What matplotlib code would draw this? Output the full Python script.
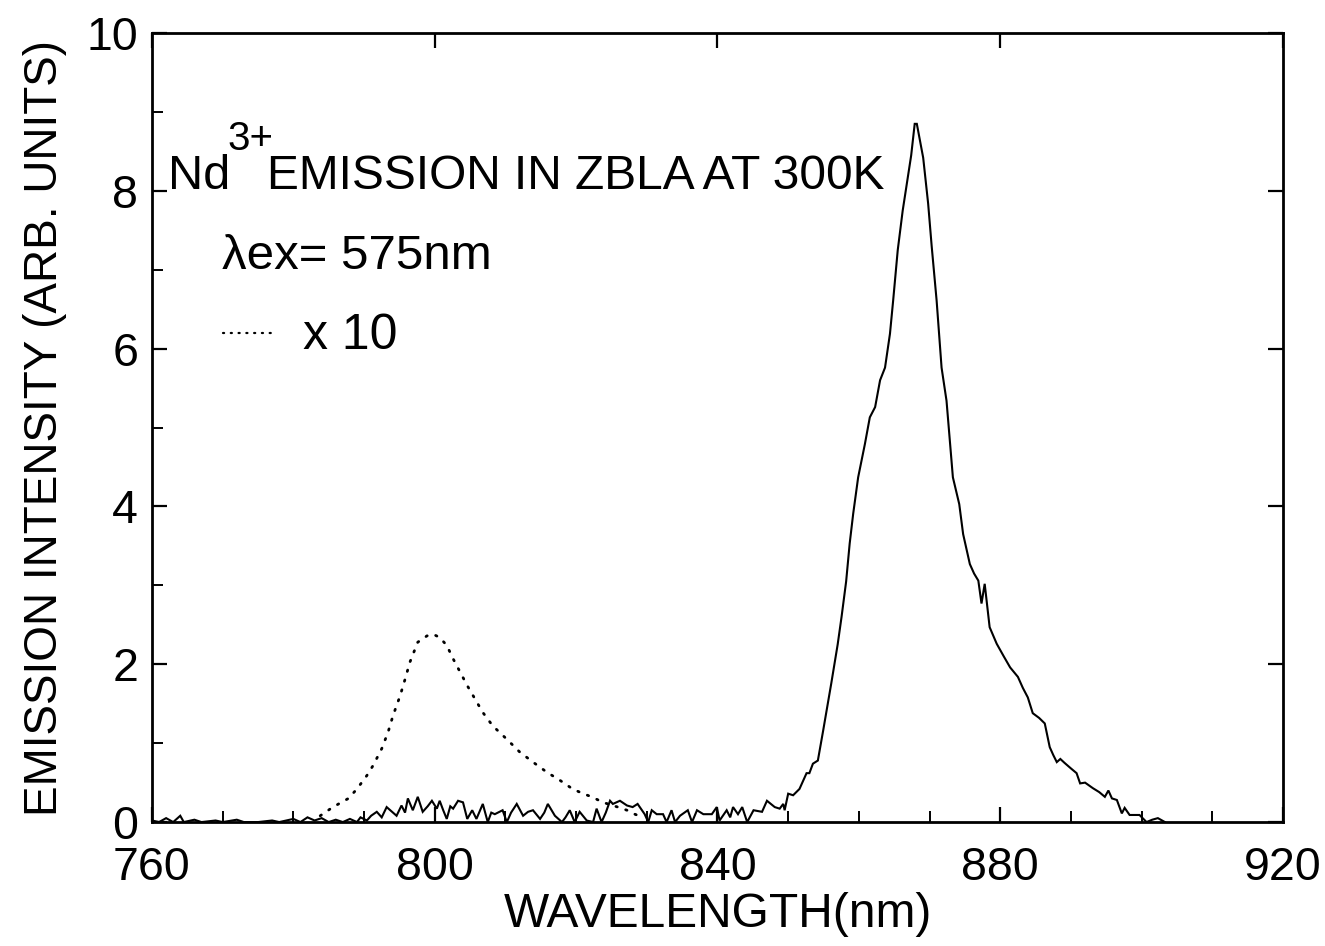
import matplotlib
matplotlib.use("Agg")
import matplotlib.pyplot as plt
from matplotlib.ticker import MultipleLocator

plt.rcParams['font.family'] = ['Liberation Sans', 'DejaVu Sans']

# Nd3+ emission spectrum (solid) in ZBLA glass at 300 K
wavelength = [
    760, 761, 762, 763, 764, 764.5, 766, 767, 769, 770, 772, 773, 775, 777, 778,
    780, 781, 782, 783, 784, 785, 786, 787, 788, 789,
    789.5, 790.4, 791, 791.8, 792.5, 793.2, 794.1, 794.6, 795.3, 795.8, 796.2,
    796.9, 797.6, 798.3, 799.0, 799.6, 800.3, 800.7, 801.2, 801.7, 802.2, 802.6,
    803.3, 804.0, 804.6, 805.3, 805.9, 806.8, 807.5, 808.0, 808.5, 809.6, 810.2,
    810.8, 811.6, 812.5, 813.2, 813.9, 814.9, 815.5, 816.0, 817.0, 818.0, 818.5,
    819.1, 819.8, 820.5, 821.5, 822.4, 822.9, 823.6, 824.2, 824.8, 825.2, 826.2,
    827.2, 828.0, 828.7, 829.7, 830.2, 830.7, 831.4, 832.3, 832.8, 833.5, 834.0,
    834.7, 835.8, 836.4, 837.1, 838.0, 839.2, 839.9, 840.3, 841.3, 841.8, 842.2,
    842.9, 843.5, 844.2, 845.1, 846.3, 847.0, 848.1, 848.8, 849.3, 849.5, 850.0,
    850.7, 851.6, 852.6, 853.0, 853.5, 854.2, 854.95, 856.1, 856.6, 857.0, 857.55,
    858.2, 858.7, 859.2, 859.9, 860.85, 861.55, 862.3, 863.0, 863.7, 864.4, 864.85,
    865.5, 866.2, 866.8, 867.4, 867.9, 868.2, 869.1, 869.8, 870.3, 871.0, 871.7,
    872.4, 873.3, 874.2, 874.75, 875.7, 876.3, 876.9, 877.35, 877.8, 878.5,
    879.5, 880.5, 881.4, 882.5, 883.2, 883.9, 884.6, 885.5, 886.3, 887.0, 887.5,
    888.0, 888.5, 889.1, 890.0, 890.8, 891.3, 892.0, 893.1, 894.0, 894.8, 895.3,
    895.8, 896.5, 897.2, 897.6, 898.3, 899.7, 900.7, 901.5, 902.3, 903.3,
]
intensity = [
    0.02, 0.0, 0.05, 0.0, 0.08, 0.0, 0.03, 0.0, 0.02, 0.0, 0.03, 0.0, 0.0, 0.02, 0.0,
    0.04, 0.0, 0.06, 0.02, 0.05, 0.0, 0.03, 0.0, 0.04, 0.0,
    0.06, 0.02, 0.08, 0.13, 0.06, 0.19, 0.12, 0.08, 0.21, 0.12, 0.30,
    0.15, 0.32, 0.13, 0.20, 0.27, 0.17, 0.27, 0.15, 0.04, 0.20, 0.17,
    0.27, 0.25, 0.04, 0.15, 0.04, 0.23, 0.0, 0.12, 0.10, 0.15, 0.0,
    0.12, 0.23, 0.08, 0.13, 0.15, 0.04, 0.12, 0.23, 0.08, 0.0, 0.06,
    0.15, 0.0, 0.13, 0.02, 0.0, 0.17, 0.0, 0.12, 0.27, 0.23, 0.27,
    0.21, 0.19, 0.23, 0.10, 0.0, 0.15, 0.10, 0.10, 0.0, 0.15, 0.0,
    0.08, 0.15, 0.0, 0.15, 0.10, 0.10, 0.19, 0.02, 0.15, 0.06, 0.19,
    0.10, 0.19, 0.0, 0.15, 0.13, 0.27, 0.19, 0.17, 0.23, 0.15, 0.36,
    0.34, 0.42, 0.62, 0.62, 0.74, 0.78, 1.16, 1.76, 2.03, 2.25, 2.60,
    3.05, 3.53, 3.91, 4.37, 4.79, 5.13, 5.26, 5.60, 5.76, 6.19, 6.61,
    7.25, 7.75, 8.10, 8.45, 8.85, 8.85, 8.42, 7.84, 7.30, 6.61, 5.76,
    5.34, 4.37, 4.03, 3.65, 3.27, 3.15, 3.06, 2.77, 3.02, 2.47,
    2.26, 2.10, 1.96, 1.84, 1.70, 1.58, 1.38, 1.32, 1.25, 0.95, 0.85,
    0.76, 0.80, 0.75, 0.68, 0.62, 0.49, 0.50, 0.43, 0.38, 0.32, 0.40,
    0.30, 0.28, 0.11, 0.18, 0.09, 0.09, 0.0, 0.03, 0.05, 0.0,
]

# 800 nm band magnified x10 (dotted)
wavelength_x10 = [
    783.8, 785.6, 787.8, 789.0, 790.4, 791.3, 792.5, 793.4, 794.1, 795.1, 795.8,
    796.5, 797.6, 798.9, 799.8, 800.7, 801.7, 802.6, 803.6, 804.6, 805.7, 806.8,
    808.2, 810.2, 812.0, 813.9, 815.9, 817.7, 819.5, 821.0, 822.2, 823.8, 825.9,
    827.2, 828.3, 829.4,
]
intensity_x10 = [
    0.08, 0.19, 0.30, 0.42, 0.59, 0.72, 0.93, 1.14, 1.35, 1.60, 1.81,
    2.03, 2.28, 2.36, 2.38, 2.34, 2.24, 2.07, 1.90, 1.73, 1.56, 1.39,
    1.22, 1.05, 0.89, 0.76, 0.63, 0.53, 0.42, 0.36, 0.32, 0.25, 0.19,
    0.15, 0.10, 0.06,
]

fig = plt.figure(figsize=(13.25, 9.46), dpi=100)
ax = fig.add_axes([0.1147, 0.131, 0.8536, 0.834])

ax.plot(wavelength, intensity, color='black', lw=1.5, solid_joinstyle='miter')
ax.plot(wavelength_x10, intensity_x10, color='black', lw=2.0,
        linestyle=(0, (0.5, 3.2)), dash_capstyle='round')

ax.set_xlim(760, 920)
ax.set_ylim(0, 10)
ax.xaxis.set_major_locator(MultipleLocator(40))
ax.xaxis.set_minor_locator(MultipleLocator(10))
ax.yaxis.set_major_locator(MultipleLocator(2))
ax.yaxis.set_minor_locator(MultipleLocator(1))
ax.tick_params(which='major', direction='in', length=11, width=1.6,
               top=True, right=True, labelsize=33.5)
ax.tick_params(which='minor', direction='in', length=8, width=1.4,
               top=False, right=False)
ax.tick_params(axis='x', which='major', pad=17)
ax.tick_params(axis='y', which='major', pad=10)
for s in ax.spines.values():
    s.set_linewidth(2.0)

ax.set_xlabel('WAVELENGTH(nm)', fontsize=34.5, labelpad=2)
ax.set_ylabel('EMISSION INTENSITY (ARB. UNITS)', fontsize=33, labelpad=14)

# Annotation block
ax.text(762.3, 8.02, 'Nd', fontsize=35, va='baseline', ha='left')
ax.text(770.7, 8.52, '3+', fontsize=29, va='baseline', ha='left')
ax.text(776.3, 8.02, 'EMISSION IN ZBLA AT 300K', fontsize=34.5,
        va='baseline', ha='left')
ax.text(769.9, 7.01, '\u03bbex= 575nm', fontsize=35.5, va='baseline', ha='left')
ax.plot([770.0, 777.4], [6.2, 6.2], color='black', lw=1.6,
        linestyle=(0, (0.5, 3.0)), dash_capstyle='round')
ax.text(781.4, 6.0, 'x 10', fontsize=36, va='baseline', ha='left')

fig.savefig('out.png', dpi=100)
